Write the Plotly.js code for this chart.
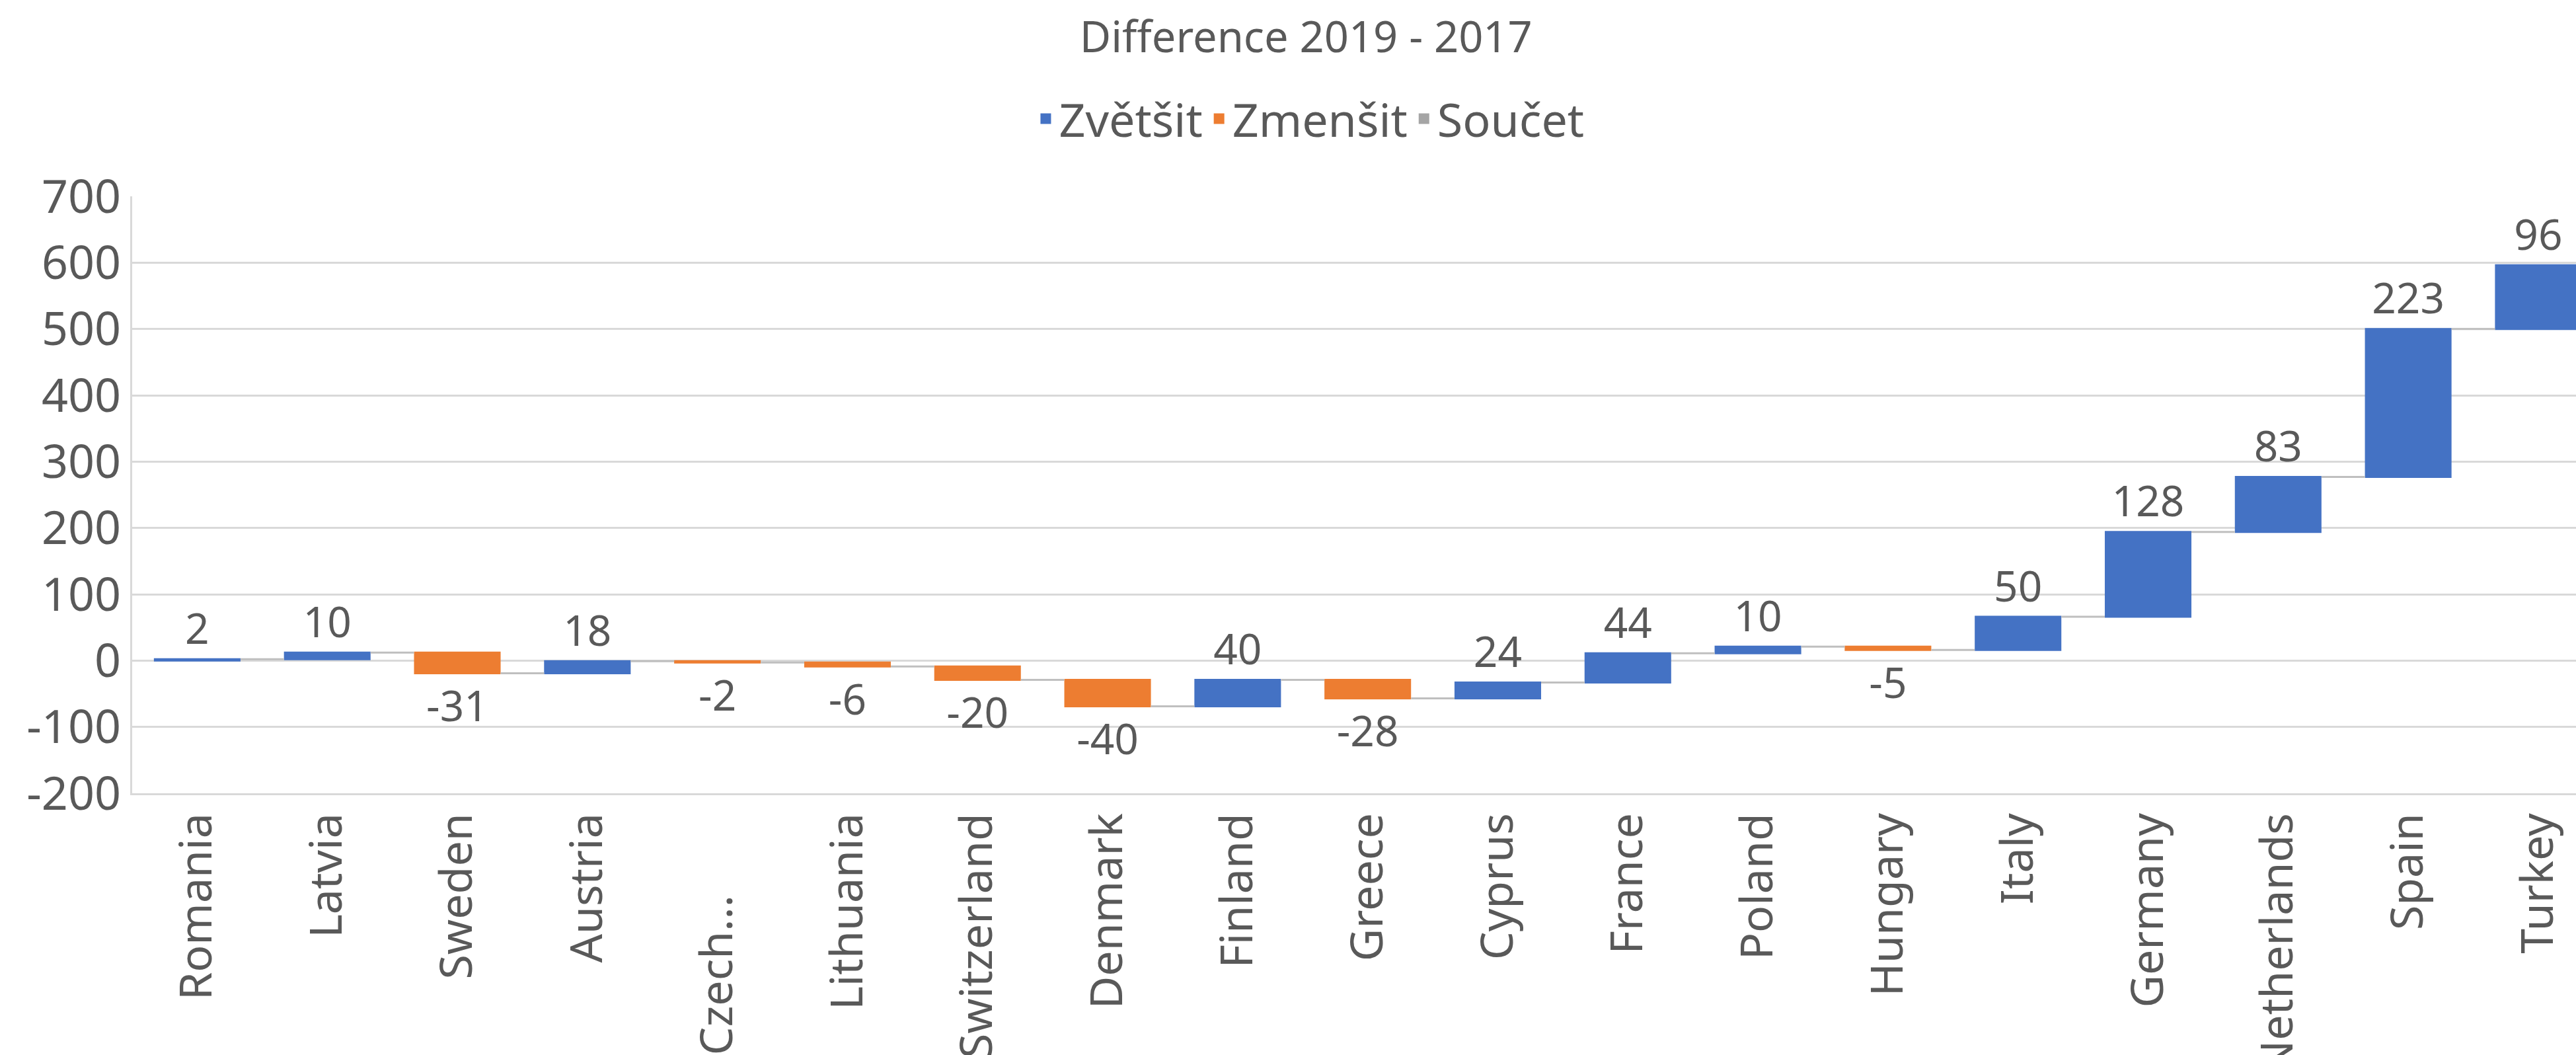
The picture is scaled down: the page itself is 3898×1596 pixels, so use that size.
<!DOCTYPE html>
<html>
<head>
<meta charset="utf-8">
<script src="https://cdn.plot.ly/plotly-3.0.1.min.js"></script>
<style>html,body{margin:0;padding:0;background:#fff;overflow:hidden;}</style>
</head>
<body>
<div id="chart" style="width:3898px;height:1596px;"></div>
<script>
const categories = ["Romania","Latvia","Sweden","Austria","Czech...","Lithuania","Switzerland","Denmark","Finland","Greece","Cyprus","France","Poland","Hungary","Italy","Germany","Netherlands","Spain","Turkey"];
const changes = [2,10,-31,18,-2,-6,-20,-40,40,-28,24,44,10,-5,50,128,83,223,96];
const measures = categories.map(() => "relative");
const legendNames = ["Zvětšit","Zmenšit","Součet"];
const legendColors = ["#4472C4","#ED7D31","#A5A5A5"];
const yTicks = [-200,-100,0,100,200,300,400,500,600,700];

const FONT = "Noto Sans, Open Sans, sans-serif";
const TXT = "#595959";

// Excel drew the truncated "Czech..." label lower than the others; pad it so it sits the same way.
const tickLabels = categories.map(c => c === "Czech..." ? c + "\u00a0".repeat(7) : c);

const traces = [{
  type: "waterfall",
  x: categories,
  y: changes,
  measure: measures,
  text: changes.map(String),
  textposition: "outside",
  textfont: {family: FONT, size: 64, color: TXT},
  cliponaxis: true,
  increasing: {marker: {color: legendColors[0]}},
  decreasing: {marker: {color: legendColors[1]}},
  totals: {marker: {color: legendColors[2]}},
  connector: {mode: "between", line: {color: "#BFBFBF", width: 3}},
  showlegend: false,
  hoverinfo: "skip"
}];
legendNames.forEach((n, i) => {
  traces.push({
    type: "scatter", mode: "markers", x: [null], y: [null], name: n,
    marker: {symbol: "square", size: 16, color: legendColors[i]},
    hoverinfo: "skip"
  });
});

const layout = {
  width: 3898, height: 1596,
  margin: {l: 200, r: 0, t: 297, b: 396, pad: 0},
  paper_bgcolor: "#ffffff", plot_bgcolor: "#ffffff",
  font: {family: FONT, color: TXT},
  title: {text: "Difference 2019 - 2017", font: {family: FONT, size: 65, color: TXT},
          xref: "container", x: 0.507, xanchor: "center", yref: "container", y: 0.965, yanchor: "middle"},
  showlegend: true,
  legend: {orientation: "h", x: 0.482, xanchor: "center", y: 1.13, yanchor: "middle",
           font: {family: FONT, size: 70, color: TXT}, itemwidth: 30, tracegroupgap: 0, bgcolor: "rgba(0,0,0,0)"},
  waterfallgap: 0.334,
  xaxis: {type: "category", range: [-0.5, 18.29], tickangle: -90,
          tickvals: categories, ticktext: tickLabels,
          tickfont: {family: FONT, size: 68, color: TXT},
          showgrid: false, showline: true, linecolor: "#D9D9D9", linewidth: 3, ticks: "", automargin: false, fixedrange: true},
  yaxis: {range: [-200, 700], tickvals: yTicks, ticktext: yTicks.map(String), tickfont: {family: FONT, size: 70, color: TXT},
          showgrid: true, gridcolor: "#D9D9D9", gridwidth: 3, zeroline: true, zerolinecolor: "#D9D9D9", zerolinewidth: 3,
          showline: true, linecolor: "#D9D9D9", linewidth: 3, ticks: "", automargin: false, fixedrange: true}
};

Plotly.newPlot("chart", traces, layout, {displayModeBar: false, staticPlot: true});
</script>
</body>
</html>
